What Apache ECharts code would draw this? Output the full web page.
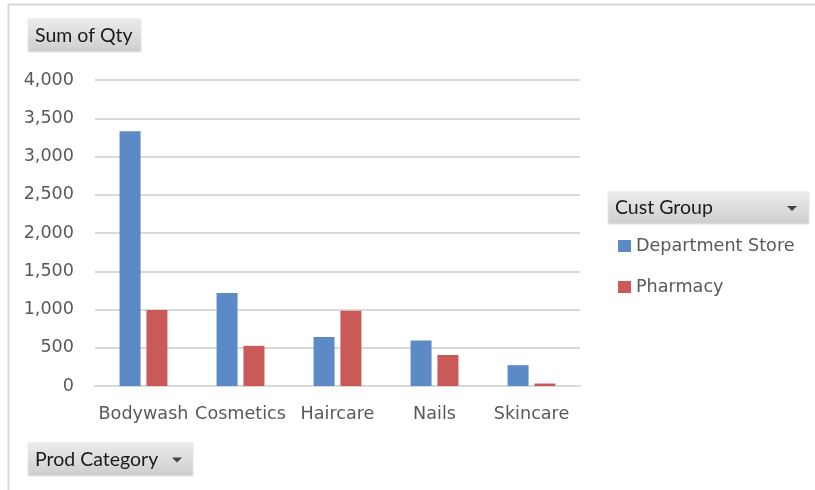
<!DOCTYPE html>
<html><head><meta charset="utf-8">
<script src="https://cdn.jsdelivr.net/npm/echarts@6/dist/echarts.min.js"></script>
<style>html,body{margin:0;padding:0;background:#fff}#c{width:815px;height:490px}</style>
</head><body><div id="c"></div>
<script>
const categories = ['Bodywash', 'Cosmetics', 'Haircare', 'Nails', 'Skincare'];
const deptStore = [3330, 1215, 640, 595, 272];
const pharmacy = [995, 525, 985, 405, 32];
const seriesNames = ['Department Store', 'Pharmacy'];
const yTicks = { min: 0, max: 4000, interval: 500 };

const FONT = '"DejaVu Sans", sans-serif';
const BTN_FONT = 'Lato, "Open Sans", sans-serif';
const btnFill = { type: 'linear', x: 0, y: 0, x2: 0, y2: 1, colorStops: [{ offset: 0, color: '#ececec' }, { offset: 1, color: '#cdcdcd' }] };

function button(x, y, w, h, text, arrow) {
  const els = [
    { type: 'rect', shape: { x: x, y: y, width: w, height: h }, style: { fill: btnFill, stroke: '#e4e4e4', lineWidth: 1 } },
    { type: 'text', style: { x: x + 7, y: y + h / 2, text: text, fill: '#1a1a1a', font: '19.5px ' + BTN_FONT, textVerticalAlign: 'middle' } }
  ];
  if (arrow) {
    els.push({ type: 'polygon', shape: { points: [[arrow - 5, y + h / 2 - 2], [arrow + 5, y + h / 2 - 2], [arrow, y + h / 2 + 3]] }, style: { fill: '#404040' } });
  }
  return els;
}

const chart = echarts.init(document.getElementById('c'));
chart.setOption({
  animation: false,
  backgroundColor: '#fff',
  textStyle: { fontFamily: FONT },
  grid: { left: 95, right: 235, top: 80, bottom: 104 },
  xAxis: {
    type: 'category', data: categories,
    axisLine: { lineStyle: { color: '#d9d9d9', width: 2 } },
    axisTick: { show: false },
    axisLabel: { color: '#595959', fontSize: 17.6, fontFamily: FONT, margin: 19, interval: 0 }
  },
  yAxis: {
    type: 'value', min: yTicks.min, max: yTicks.max, interval: yTicks.interval,
    axisLine: { show: false }, axisTick: { show: false },
    splitLine: { lineStyle: { color: '#d9d9d9', width: 2 } },
    axisLabel: { color: '#595959', fontSize: 17.6, fontFamily: FONT, margin: 21,
      formatter: v => v.toLocaleString('en-US') }
  },
  legend: {
    orient: 'vertical', left: 613, top: 232, itemGap: 23,
    icon: 'rect', itemWidth: 13, itemHeight: 12,
    textStyle: { color: '#595959', fontSize: 17.6, fontFamily: FONT, padding: [0, 0, 0, 0] },
    data: seriesNames
  },
  series: [
    { name: seriesNames[0], type: 'bar', data: deptStore, barWidth: 21, barGap: '28%',
      itemStyle: { color: '#5b8ac6' } },
    { name: seriesNames[1], type: 'bar', data: pharmacy, barWidth: 21,
      itemStyle: { color: '#c95a58' } }
  ],
  graphic: [
    { type: 'rect', shape: { x: 8.5, y: 4.5, width: 820, height: 500 }, style: { fill: 'none', stroke: '#d9d9d9', lineWidth: 2 }, silent: true },
    ...button(28, 19, 113, 33, 'Sum of Qty', null),
    ...button(608, 192, 201, 32, 'Cust Group', 792),
    ...button(28, 443, 165, 33, 'Prod Category', 177)
  ]
});
</script></body></html>
